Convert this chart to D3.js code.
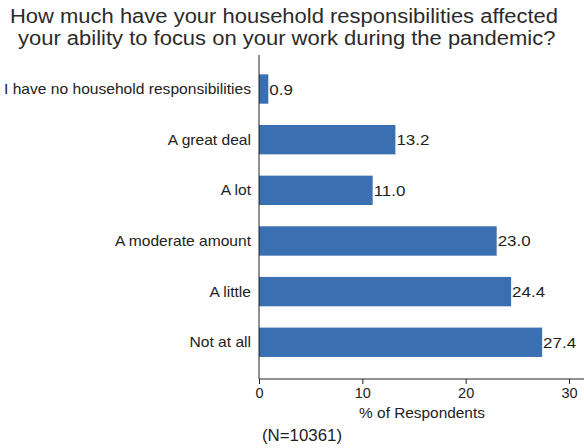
<!DOCTYPE html>
<html><head><meta charset="utf-8">
<script src="https://cdn.jsdelivr.net/npm/d3@7"></script>
<style>body{margin:0;background:#fff}svg{display:block}text{font-family:"Liberation Sans",Arial,sans-serif}</style>
</head><body>
<script>
const categories = ["I have no household responsibilities","A great deal","A lot","A moderate amount","A little","Not at all"];
const values = [0.9,13.2,11.0,23.0,24.4,27.4];
const xTicks = [0,10,20,30];
const titleLines = ["How much have your household responsibilities affected","your ability to focus on your work during the pandemic?"];
const xTitle = "% of Respondents";
const note = "(N=10361)";

const W=584,H=448;
const svg=d3.select("body").append("svg").attr("width",W).attr("height",H);
svg.append("rect").attr("width",W).attr("height",H).attr("fill","#fff");

function stretch(sel,f){
  sel.each(function(){const l=this.getComputedTextLength();d3.select(this).attr("textLength",l*f).attr("lengthAdjust","spacingAndGlyphs");});
}

const x=d3.scaleLinear().domain([0,30]).range([259,569]);
const y=d3.scaleBand().domain(categories).range([63.7,367.6]).paddingInner(0.42).paddingOuter(0.21);

// title
const tt=svg.append("g").selectAll("text").data(titleLines).join("text")
 .attr("x",(d,i)=>i===0?10:18).attr("y",(d,i)=>23+i*22)
 .attr("font-size",20).attr("fill","#2b2b2b").text(d=>d);
const tl0=tt.nodes()[0].getComputedTextLength();
stretch(tt,548/tl0);

// bars
svg.append("g").selectAll("rect").data(values).join("rect")
 .attr("x",x(0)).attr("y",(d,i)=>y(categories[i])).attr("height",y.bandwidth())
 .attr("width",d=>x(d)-x(0)).attr("fill","#3a70b2");

// value labels
const vl=svg.append("g").selectAll("text").data(values).join("text")
 .attr("x",d=>x(d)+1).attr("y",(d,i)=>y(categories[i])+y.bandwidth()/2+5.5)
 .attr("font-size",15).attr("fill","#1e1e1e").text(d=>d.toFixed(1));
stretch(vl,33/vl.nodes()[5].getComputedTextLength());

// category labels
const cl=svg.append("g").selectAll("text").data(categories).join("text")
 .attr("x",251).attr("y",d=>y(d)+y.bandwidth()/2+5).attr("text-anchor","end")
 .attr("font-size",14.5).attr("fill","#222").text(d=>d);
stretch(cl,247/cl.nodes()[0].getComputedTextLength());

// y axis line
svg.append("line").attr("x1",259).attr("x2",259).attr("y1",55).attr("y2",379).attr("stroke","#222").attr("stroke-width",1);

// x axis
const xa=svg.append("g").attr("transform","translate(0,379)")
 .call(d3.axisBottom(x).tickValues(xTicks).tickSize(5).tickFormat(d3.format("d")));
xa.select(".domain").remove();
xa.append("line").attr("x1",259).attr("x2",584).attr("stroke","#222");
xa.selectAll(".tick line").attr("stroke","#222");
xa.selectAll(".tick text").attr("font-size",14.5).attr("fill","#222").attr("font-family","Liberation Sans, Arial, sans-serif").attr("dy","0.8em").attr("y",7);

svg.append("text").attr("x",422).attr("y",418).attr("text-anchor","middle").attr("font-size",15.4).attr("fill","#222").text(xTitle);
const nt=svg.append("text").attr("x",262).attr("y",441).attr("font-size",16).attr("fill","#222").text(note);
stretch(nt,80/nt.node().getComputedTextLength());
</script>
</body></html>
